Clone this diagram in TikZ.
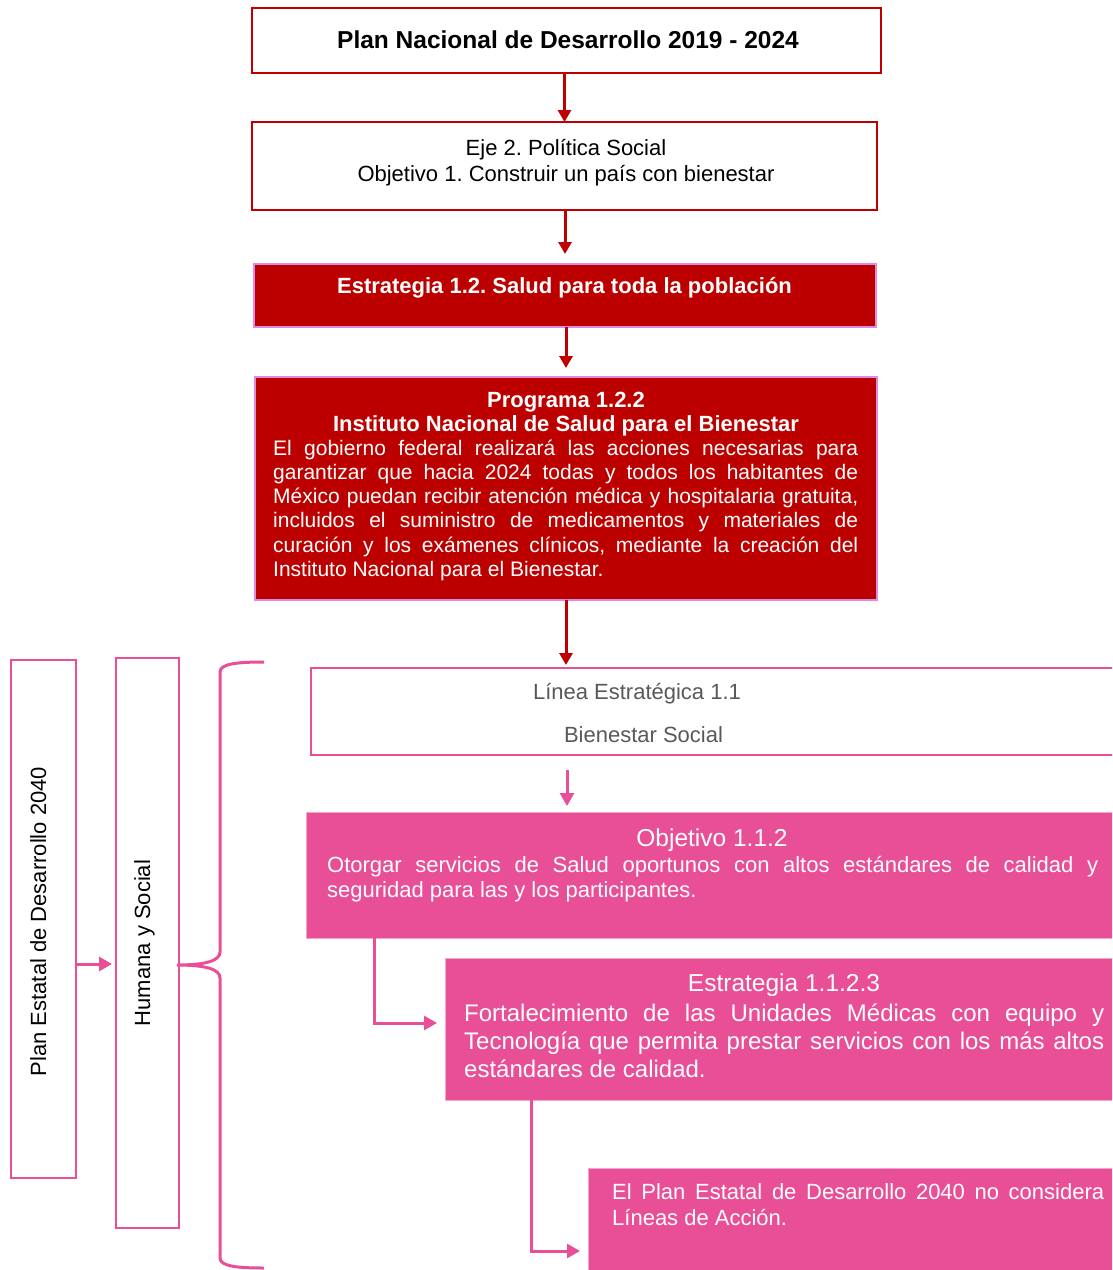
\documentclass[tikz,border=0pt]{standalone}
\usepackage{fontspec}
\setmainfont{Liberation Sans}
\usetikzlibrary{arrows.meta}
\definecolor{dred}{HTML}{BC0000}
\definecolor{bred}{HTML}{C00000}
\definecolor{vio}{HTML}{DE8BE6}
\definecolor{pnk}{HTML}{E94F96}
\definecolor{lpnk}{HTML}{F4A6C9}
\definecolor{gry}{HTML}{595959}
\newcommand{\fsz}[1]{\fontsize{#1}{#1}\selectfont}
\newcommand{\jline}[2]{\makebox[#1][s]{#2}}
\frenchspacing
\begin{document}
\frenchspacing
\begin{tikzpicture}[x=1pt,y=-1pt,
 box/.style={rectangle, inner sep=0pt, outer sep=0pt, anchor=north west},
 wbox/.style={box, draw=bred, line width=2pt, fill=white},
 rbox/.style={box, draw=vio, line width=1.5pt, fill=dred},
 pbox/.style={box, draw=lpnk, line width=1pt, fill=pnk},
 lbox/.style={box, draw=pnk, line width=2.2pt, fill=white},
 txt/.style={inner sep=0pt, anchor=base},
 ltxt/.style={inner sep=0pt, anchor=base west},
 rarr/.style={draw=bred, line width=3pt, -{Triangle[length=12pt,width=13pt]}},
 parr/.style={draw=pnk, line width=3pt, -{Triangle[length=13pt,width=14pt]}},
]
\useasboundingbox (0,0) rectangle (1112,1270);
\fill[white] (0,0) rectangle (1112,1270);
\clip (0,0) rectangle (1112,1270);

% boxes
\node[wbox, minimum width=629pt, minimum height=65pt] (b1) at (252,8) {};
\node[wbox, minimum width=625pt, minimum height=88pt] (b2) at (252,122) {};
\node[rbox, minimum width=622pt, minimum height=63pt] (b3) at (254,264) {};
\node[rbox, minimum width=622pt, minimum height=223pt] (b4) at (255,377) {};
\node[lbox, minimum width=65pt, minimum height=518pt] (ped) at (11,660) {};
\node[lbox, minimum width=63pt, minimum height=570pt] (hum) at (116,658) {};
\node[lbox, minimum width=900pt, minimum height=87pt] (lin) at (311,668) {};
\node[pbox, minimum width=900pt, minimum height=126pt] (obj) at (306,812) {};
\node[pbox, minimum width=800pt, minimum height=142pt] (estr) at (445,958) {};
\node[pbox, minimum width=700pt, minimum height=200pt] (last) at (588,1168) {};

% texts
\node[txt, font=\bfseries\fsz{24.5}] (t1) at (568,48) {Plan Nacional de Desarrollo 2019 - 2024};
\node[txt, font=\fsz{22}] (t2a) at (566,155) {Eje 2. Política Social};
\node[txt, font=\fsz{22}] (t2b) at (566,181) {Objetivo 1. Construir un país con bienestar};
\node[txt, font=\bfseries\fsz{22}, text=white] (t3) at (564.5,293) {Estrategia 1.2. Salud para toda la población};
\node[txt, font=\bfseries\fsz{22}, text=white] (t4a) at (566,407) {Programa 1.2.2};
\node[txt, font=\bfseries\fsz{22}, text=white] (t4b) at (566,431) {Instituto Nacional de Salud para el Bienestar};
\begin{scope}[every node/.style={ltxt, font=\fsz{21}, text=white}]
\node (p1) at (273,455) {\jline{585pt}{El gobierno federal realizará las acciones necesarias para}};
\node (p2) at (273,479.3) {\jline{585pt}{garantizar que hacia 2024 todas y todos los habitantes de}};
\node (p3) at (273,503.6) {\jline{585pt}{México puedan recibir atención médica y hospitalaria gratuita,}};
\node (p4) at (273,527.9) {\jline{585pt}{incluidos el suministro de medicamentos y materiales de}};
\node (p5) at (273,552.2) {\jline{585pt}{curación y los exámenes clínicos, mediante la creación del}};
\node (p6) at (273,576.5) {Instituto Nacional para el Bienestar.};
\end{scope}

\node[txt, font=\fsz{22}, text=gry] (l1) at (637,699) {Línea Estratégica 1.1};
\node[txt, font=\fsz{22}, text=gry] (l2) at (643.5,742) {Bienestar Social};

\node[txt, font=\fsz{24.5}, text=white] (o1) at (712,846) {Objetivo 1.1.2};
\node[ltxt, font=\fsz{22}, text=white] (o2) at (327,872) {\jline{771pt}{Otorgar servicios de Salud oportunos con altos estándares de calidad y}};
\node[ltxt, font=\fsz{22}, text=white] (o3) at (327,897) {seguridad para las y los participantes.};

\node[txt, font=\fsz{24.5}, text=white] (e1) at (784,991) {Estrategia 1.1.2.3};
\node[ltxt, font=\fsz{24}, text=white] (e2) at (464,1021) {\jline{640pt}{Fortalecimiento de las Unidades Médicas con equipo y}};
\node[ltxt, font=\fsz{24}, text=white] (e3) at (464,1049) {\jline{640pt}{Tecnología que permita prestar servicios con los más altos}};
\node[ltxt, font=\fsz{24}, text=white] (e4) at (464,1077) {estándares de calidad.};

\node[ltxt, font=\fsz{22}, text=white] (s1) at (612,1199) {\jline{492pt}{El Plan Estatal de Desarrollo 2040 no considera}};
\node[ltxt, font=\fsz{22}, text=white] (s2) at (612,1225) {Líneas de Acción.};

\node[txt, font=\fsz{22}, rotate=90] (pt) at (46,921.5) {Plan Estatal de Desarrollo 2040};
\node[txt, font=\fsz{22}, rotate=90] (ht) at (150,943) {Humana y Social};

% connectors
\coordinate (xa) at (567,0);
\coordinate (ya) at (0,964);
\coordinate (k1) at (374,1023);
\coordinate (k2) at (531,1251);
\draw[rarr] (b2.north |- b1.south) -- (b2.north);
\draw[rarr, shorten >=10pt] (b3.north |- b2.south) -- (b3.north);
\draw[rarr, shorten >=9pt] (b4.north |- b3.south) -- (b4.north);
\draw[rarr, shorten >=3pt] (b4.south) -- (b4.south |- lin.north);
\draw[parr, shorten <=15pt, shorten >=6pt] (lin.south -| xa) -- (obj.north -| xa);
\draw[parr, shorten >=4pt] (ped.east |- ya) -- (hum.west |- ya);
\draw[parr, shorten >=8pt] (obj.south -| k1) |- (estr.west |- k1);
\draw[parr, shorten >=8pt] (estr.south -| k2) |- (last.west |- k2);

% brace
\draw[pnk, line width=3pt] (264,662) .. controls (236,662) and (220,664) .. (220,672) -- (220,952)
  .. controls (220,961) and (205,965) .. (177,965)
  .. controls (205,965) and (220,969) .. (220,978) -- (220,1258)
  .. controls (220,1266) and (236,1268) .. (264,1268);
\end{tikzpicture}
\end{document}
